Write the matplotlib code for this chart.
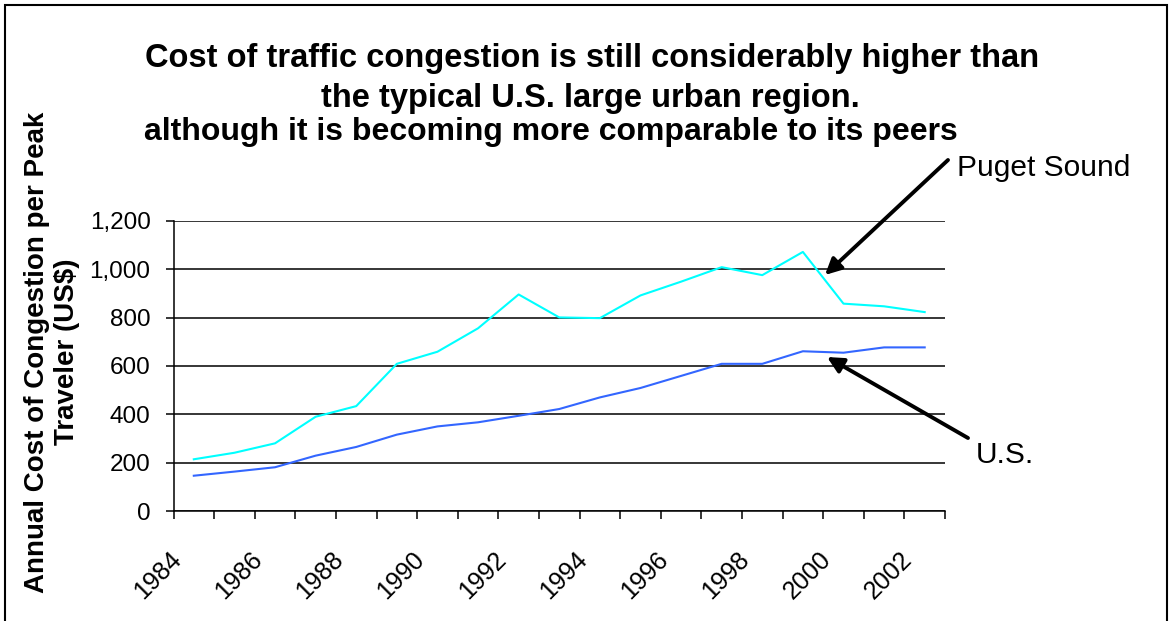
import matplotlib
matplotlib.use("Agg")
import matplotlib.pyplot as plt
import matplotlib.transforms as mtransforms
from matplotlib.patches import Rectangle

years = list(range(1984, 2003))
puget_sound = [214, 241, 280, 390, 434, 609, 659, 756, 896, 801, 798, 892, 949, 1009, 976, 1072, 858, 847, 823]
us_values = [146, 163, 181, 229, 265, 316, 350, 367, 394, 422, 470, 509, 559, 609, 609, 661, 655, 677, 677]
tick_labels = [str(y) for y in years[::2]]
y_ticks = [0, 200, 400, 600, 800, 1000, 1200]

plt.rcParams['font.family'] = ['Liberation Sans', 'DejaVu Sans']

W, H = 1172, 621
fig = plt.figure(figsize=(W / 100, H / 100), dpi=100)
ax = fig.add_axes([173.5 / W, 1 - 511 / H, (945 - 173.5) / W, (511 - 221) / H])

x = list(range(len(years)))
ax.plot(x, puget_sound, color='#00FFFF', lw=1.5, zorder=3)
ax.plot(x, us_values, color='#3366FF', lw=1.5, zorder=3)

ax.set_xlim(-0.5, len(years) - 0.5)
ax.set_ylim(0, 1200)
ax.set_yticks(y_ticks)
ax.set_yticklabels([f"{v:,}" for v in y_ticks], fontsize=17.5)
ax.yaxis.grid(True, color='black', lw=1.1)
ax.set_axisbelow(True)
for s in ['top', 'right']:
    ax.spines[s].set_visible(False)
ax.spines['left'].set_linewidth(1.1)
ax.spines['bottom'].set_linewidth(1.1)
ax.tick_params(axis='y', length=6, width=1.1, pad=10.5, direction='out')

ax.set_xticks(x[::2])
ax.set_xticklabels(tick_labels, fontsize=18, rotation=45, ha='right', va='top')
ax.set_xticks([i - 0.5 for i in range(len(years) + 1)], minor=True)
ax.tick_params(axis='x', which='major', length=0, pad=26)
ax.tick_params(axis='x', which='minor', length=6, width=1.1, direction='out')
offset = mtransforms.ScaledTranslation(-8 / 100, 0, fig.dpi_scale_trans)
for lbl in ax.get_xticklabels():
    lbl.set_transform(lbl.get_transform() + offset)

ax.set_ylabel("Annual Cost of Congestion per Peak\nTraveler (US$)", fontsize=20, fontweight='bold',
              linespacing=1.2, va='center')
ax.yaxis.set_label_coords((52 - 173.5) / (945 - 173.5), (511 - 352) / (511 - 221))

fig.text(592 / W, 1 - 67 / H, "Cost of traffic congestion is still considerably higher than",
         ha='center', va='baseline', fontsize=23.5, fontweight='bold')
fig.text(590 / W, 1 - 107 / H, "the typical U.S. large urban region.",
         ha='center', va='baseline', fontsize=23.5, fontweight='bold')
fig.text(551 / W, 1 - 140 / H, "although it is becoming more comparable to its peers",
         ha='center', va='baseline', fontsize=23, fontweight='bold')

fig.text(957 / W, 1 - 168 / H, "Puget Sound", fontsize=21.5, ha='left', va='center')
fig.text(976 / W, 1 - 455 / H, "U.S.", fontsize=21.5, ha='left', va='center')

ax.annotate("", xy=(825 / W, 1 - 275 / H), xytext=(948 / W, 1 - 160 / H),
            xycoords='figure fraction', textcoords='figure fraction',
            arrowprops=dict(arrowstyle='-|>', color='black', lw=2.8, mutation_scale=24, shrinkA=0, shrinkB=0))
ax.annotate("", xy=(827 / W, 1 - 357 / H), xytext=(968 / W, 1 - 438 / H),
            xycoords='figure fraction', textcoords='figure fraction',
            arrowprops=dict(arrowstyle='-|>', color='black', lw=2.8, mutation_scale=24, shrinkA=0, shrinkB=0))

fig.patches.append(Rectangle((5 / W, -0.1), (1167 - 5) / W, 1.1 - 5 / H, transform=fig.transFigure,
                             fill=False, edgecolor='black', lw=1.5))

fig.savefig("out.png", dpi=100)
